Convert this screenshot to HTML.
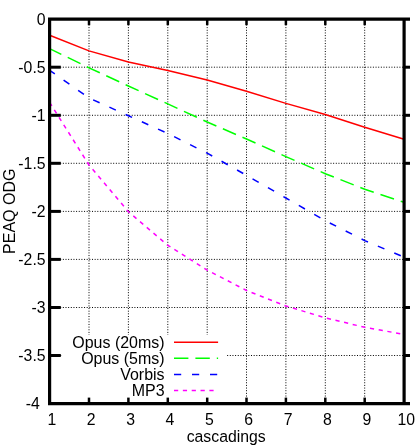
<!DOCTYPE html>
<html><head><meta charset="utf-8"><title>PEAQ ODG vs cascadings</title>
<style>
html,body{margin:0;padding:0;background:#fff;}
body{width:415px;height:447px;overflow:hidden;font-family:"Liberation Sans",sans-serif;}
svg{display:block;will-change:transform}
text{font-family:"Liberation Sans",sans-serif;font-size:17px;fill:#000}
</style></head><body>
<svg width="415" height="447" viewBox="0 0 415 447">
<rect width="415" height="447" fill="#fff"/>

<g stroke="#000" stroke-width="1" stroke-dasharray="1 1.65" fill="none">
<line x1="89.0" y1="19.2" x2="89.0" y2="403.55199999999996"/>
<line x1="128.4" y1="19.2" x2="128.4" y2="403.55199999999996"/>
<line x1="167.8" y1="19.2" x2="167.8" y2="403.55199999999996"/>
<line x1="207.2" y1="19.2" x2="207.2" y2="403.55199999999996"/>
<line x1="246.5" y1="19.2" x2="246.5" y2="403.55199999999996"/>
<line x1="285.9" y1="19.2" x2="285.9" y2="403.55199999999996"/>
<line x1="325.3" y1="19.2" x2="325.3" y2="403.55199999999996"/>
<line x1="364.7" y1="19.2" x2="364.7" y2="403.55199999999996"/>
<line x1="49.6" y1="67.2" x2="404.1" y2="67.2"/>
<line x1="49.6" y1="115.3" x2="404.1" y2="115.3"/>
<line x1="49.6" y1="163.3" x2="404.1" y2="163.3"/>
<line x1="49.6" y1="211.4" x2="404.1" y2="211.4"/>
<line x1="49.6" y1="259.4" x2="404.1" y2="259.4"/>
<line x1="49.6" y1="307.5" x2="404.1" y2="307.5"/>
<line x1="49.6" y1="355.5" x2="404.1" y2="355.5"/>
</g>
<g fill="none" stroke-width="1.5">
<path d="M49.6,35.3 L89.0,50.9 L128.4,62.0 L167.8,70.5 L207.2,80.0 L246.5,91.3 L285.9,103.4 L325.3,114.5 L364.7,127.2 L404.1,139.2" stroke="#ff0000"/>
<path d="M49.6,48.6 L89.0,67.8 L128.4,86.0 L167.8,103.9 L207.2,122.0 L246.5,139.0 L285.9,156.6 L325.3,173.7 L364.7,189.2 L404.1,202.3" stroke="#00ff00" stroke-dasharray="14.25 7.1" stroke-dashoffset="1.2"/>
<path d="M49.6,70.3 L89.0,98.0 L128.4,115.7 L167.8,133.5 L207.2,153.2 L246.5,175.3 L285.9,198.0 L325.3,220.7 L364.7,240.6 L404.1,257.2" stroke="#0000ff" stroke-dasharray="7.1 10.7" stroke-dashoffset="0.7"/>
<path d="M49.6,102.3 L89.0,165.0 L128.4,211.7 L167.8,245.3 L207.2,270.1 L246.5,290.5 L285.9,306.0 L325.3,317.8 L364.7,327.3 L404.1,334.4" stroke="#ff00ff" stroke-dasharray="4.2 4.65"/>
</g>
<rect x="62" y="335" width="164.7" height="65" fill="#fff"/>
<text transform="translate(164.6,347.7) scale(0.94,1)" text-anchor="end">Opus (20ms)</text>
<line x1="174" y1="342.2" x2="218.1" y2="342.2" stroke="#ff0000" stroke-width="1.5"/>
<text transform="translate(164.6,363.7) scale(0.94,1)" text-anchor="end">Opus (5ms)</text>
<line x1="174" y1="358.2" x2="218.1" y2="358.2" stroke="#00ff00" stroke-width="1.5" stroke-dasharray="14.4 7.0"/>
<text transform="translate(164.6,379.9) scale(0.94,1)" text-anchor="end">Vorbis</text>
<line x1="174" y1="374.4" x2="218.1" y2="374.4" stroke="#0000ff" stroke-width="1.5" stroke-dasharray="7.2 10.8"/>
<text transform="translate(164.6,395.9) scale(0.94,1)" text-anchor="end">MP3</text>
<line x1="174" y1="390.4" x2="218.1" y2="390.4" stroke="#ff00ff" stroke-width="1.5" stroke-dasharray="4.2 4.65"/>
<g stroke="#000" stroke-width="3.2" fill="none">
<line x1="48.0" y1="19.2" x2="410" y2="19.2"/>
<line x1="48.0" y1="403.6" x2="410" y2="403.6"/>
<line x1="49.6" y1="19.2" x2="49.6" y2="403.6"/>
<line x1="404.1" y1="19.2" x2="404.1" y2="403.6"/>
</g>
<g stroke="#000" stroke-width="2.5" fill="none">
<line x1="89.0" y1="19.2" x2="89.0" y2="25.2"/>
<line x1="89.0" y1="403.6" x2="89.0" y2="397.6"/>
<line x1="128.4" y1="19.2" x2="128.4" y2="25.2"/>
<line x1="128.4" y1="403.6" x2="128.4" y2="397.6"/>
<line x1="167.8" y1="19.2" x2="167.8" y2="25.2"/>
<line x1="167.8" y1="403.6" x2="167.8" y2="397.6"/>
<line x1="207.2" y1="19.2" x2="207.2" y2="25.2"/>
<line x1="207.2" y1="403.6" x2="207.2" y2="397.6"/>
<line x1="246.5" y1="19.2" x2="246.5" y2="25.2"/>
<line x1="246.5" y1="403.6" x2="246.5" y2="397.6"/>
<line x1="285.9" y1="19.2" x2="285.9" y2="25.2"/>
<line x1="285.9" y1="403.6" x2="285.9" y2="397.6"/>
<line x1="325.3" y1="19.2" x2="325.3" y2="25.2"/>
<line x1="325.3" y1="403.6" x2="325.3" y2="397.6"/>
<line x1="364.7" y1="19.2" x2="364.7" y2="25.2"/>
<line x1="364.7" y1="403.6" x2="364.7" y2="397.6"/>
</g><g stroke="#000" stroke-width="3" fill="none">
<line x1="49.6" y1="67.2" x2="60.8" y2="67.2"/>
<line x1="404.1" y1="67.2" x2="410" y2="67.2"/>
<line x1="49.6" y1="115.3" x2="60.8" y2="115.3"/>
<line x1="404.1" y1="115.3" x2="410" y2="115.3"/>
<line x1="49.6" y1="163.3" x2="60.8" y2="163.3"/>
<line x1="404.1" y1="163.3" x2="410" y2="163.3"/>
<line x1="49.6" y1="211.4" x2="60.8" y2="211.4"/>
<line x1="404.1" y1="211.4" x2="410" y2="211.4"/>
<line x1="49.6" y1="259.4" x2="60.8" y2="259.4"/>
<line x1="404.1" y1="259.4" x2="410" y2="259.4"/>
<line x1="49.6" y1="307.5" x2="60.8" y2="307.5"/>
<line x1="404.1" y1="307.5" x2="410" y2="307.5"/>
<line x1="49.6" y1="355.5" x2="60.8" y2="355.5"/>
<line x1="404.1" y1="355.5" x2="410" y2="355.5"/>
</g>
<text transform="translate(45.6,24.6) scale(0.93,1)" text-anchor="end">0</text>
<text transform="translate(45.6,72.6) scale(0.93,1)" text-anchor="end">-0.5</text>
<text transform="translate(45.6,120.7) scale(0.93,1)" text-anchor="end">-1</text>
<text transform="translate(45.6,168.7) scale(0.93,1)" text-anchor="end">-1.5</text>
<text transform="translate(45.6,216.8) scale(0.93,1)" text-anchor="end">-2</text>
<text transform="translate(45.6,264.8) scale(0.93,1)" text-anchor="end">-2.5</text>
<text transform="translate(45.6,312.9) scale(0.93,1)" text-anchor="end">-3</text>
<text transform="translate(45.6,360.9) scale(0.93,1)" text-anchor="end">-3.5</text>
<text transform="translate(39.9,409.0) scale(0.93,1)" text-anchor="end">-4</text>
<text transform="translate(51.8,425.1) scale(0.93,1)" text-anchor="middle">1</text>
<text transform="translate(91.2,425.1) scale(0.93,1)" text-anchor="middle">2</text>
<text transform="translate(130.6,425.1) scale(0.93,1)" text-anchor="middle">3</text>
<text transform="translate(170.0,425.1) scale(0.93,1)" text-anchor="middle">4</text>
<text transform="translate(209.4,425.1) scale(0.93,1)" text-anchor="middle">5</text>
<text transform="translate(248.7,425.1) scale(0.93,1)" text-anchor="middle">6</text>
<text transform="translate(288.1,425.1) scale(0.93,1)" text-anchor="middle">7</text>
<text transform="translate(327.5,425.1) scale(0.93,1)" text-anchor="middle">8</text>
<text transform="translate(366.9,425.1) scale(0.93,1)" text-anchor="middle">9</text>
<text transform="translate(406.3,425.1) scale(0.93,1)" text-anchor="middle">10</text>
<text transform="translate(226.2,441.5) scale(0.93,1)" text-anchor="middle">cascadings</text>
<text transform="translate(14.6,211.2) rotate(-90) scale(0.945,1)" text-anchor="middle">PEAQ ODG</text>
</svg></body></html>
